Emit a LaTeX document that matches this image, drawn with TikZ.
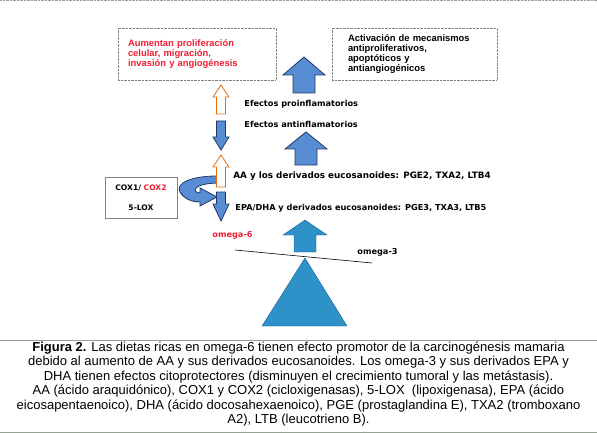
\documentclass[tikz,border=0pt]{standalone}
\usepackage{fontspec}
\setmainfont{Liberation Sans}
\newfontfamily\labfont{DejaVu Sans}
\usepackage{tikz}

\definecolor{arrblue}{RGB}{88,141,212}
\definecolor{arrnavy}{RGB}{31,56,100}
\definecolor{balblue}{RGB}{46,146,201}
\definecolor{baledge}{RGB}{30,95,145}
\definecolor{arrorange}{RGB}{228,108,10}
\definecolor{txtred}{RGB}{240,30,50}
\definecolor{rulegray}{RGB}{150,162,150}

% block arrow: style, x, tip, head base, tail, half head, half shaft
\newcommand{\blockarr}[7]{%
  \draw[#1] (#2-#6,#4) -- (#2,#3) -- (#2+#6,#4) -- (#2+#7,#4)
    -- (#2+#7,#5) -- (#2-#7,#5) -- (#2-#7,#4) -- cycle;}

\begin{document}
\begin{tikzpicture}[x=1pt, y=-1pt, thick,
  bigup/.style={fill=arrblue, draw=arrnavy},
  smallup/.style={fill=white, draw=arrorange},
  smalldown/.style={fill=arrblue, draw=arrnavy},
  balance/.style={fill=balblue, draw=baledge, thin},
  infobox/.style={draw=gray, densely dotted, thin, minimum height=52pt, align=left,
    font=\fontsize{9.4}{9.8}\selectfont\bfseries},
  steplabel/.style={anchor=west, inner sep=0pt,
    font=\labfont\fontsize{8.2}{10}\selectfont\bfseries}]
  \useasboundingbox (0,0) rectangle (597,433);
  \draw[rulegray, densely dotted, thin] (0,0.5) -- (597,0.5);

  \node[infobox, text=txtred, text width=138pt, inner xsep=10pt] (Prolif) at (197,54)
    {Aumentan proliferación\\celular, migración,\\invasión y angiogénesis};
  \node[infobox, text width=133pt, inner xsep=16pt] (Antiprolif) at (414.5,54)
    {Activación de mecanismos\\antiproliferativos,\\apoptóticos y\\antiangiogénicos};

  \blockarr{bigup}{304}{57}{75}{93}{21}{11}
  \blockarr{bigup}{306}{132}{149}{165}{21}{11}
  \blockarr{balance}{305}{220}{235}{252}{22}{11}

  \draw[smalldown] (217,176) .. controls (192,176) and (175,183) .. (180,192)
    .. controls (184,199) and (192,202) .. (200,202) -- (200,206) -- (217,197)
    -- (200,188) -- (200,193) .. controls (193,193) and (190,184) .. (217,183) -- cycle;

  \blockarr{smallup}{221}{85}{97}{114}{8}{4.5}
  \blockarr{smalldown}{221}{150}{137}{121}{8}{4.5}
  \blockarr{smallup}{221}{155}{167}{187}{8}{4.5}
  \blockarr{smalldown}{221}{221}{204}{192}{8}{4.5}

  \node[steplabel] (Pro) at (244,104) {Efectos proinflamatorios};
  \node[steplabel] (Anti) at (244,124) {Efectos antinflamatorios};
  \node[steplabel, font=\labfont\fontsize{8.8}{10}\selectfont\bfseries] (AA) at (233,176)
    {AA y los derivados eucosanoides: PGE2, TXA2, LTB4};
  \node[steplabel] (EPA) at (235,208) {EPA/DHA y derivados eucosanoides: PGE3, TXA3, LTB5};

  \node[draw=gray, thin, minimum width=72pt, minimum height=41pt, align=center,
    font=\labfont\fontsize{7.6}{20}\selectfont\bfseries] (Cox) at (141,197.5)
    {COX1/ \textcolor{txtred}{COX2}\\5-LOX};

  \coordinate (BalL) at (235,250);
  \coordinate (BalR) at (372,263);
  \draw[semithick] (BalL) -- (BalR);
  \draw[balance] (305,258) -- (347,326) -- (262,326) -- cycle;

  \node[steplabel, anchor=center, text=txtred] (Om6) at (232.5,235) {omega-6};
  \node[steplabel, anchor=center] (Om3) at (377.5,252) {omega-3};

  \draw[rulegray] (0,340) -- (597,340);
  \draw[rulegray] (0,432) -- (597,432);
  \node[align=center, inner sep=0pt, font=\fontsize{13}{14.5}\selectfont] (Caption) at (298.5,384)
    {\textbf{Figura 2.} Las dietas ricas en omega-6 tienen efecto promotor de la carcinogénesis mamaria\\
     debido al aumento de AA y sus derivados eucosanoides. Los omega-3 y sus derivados EPA y\\
     DHA tienen efectos citoprotectores (disminuyen el crecimiento tumoral y las metástasis).\\
     AA (ácido araquidónico), COX1 y COX2 (cicloxigenasas), 5-LOX\ \ (lipoxigenasa), EPA (ácido\\
     eicosapentaenoico), DHA (ácido docosahexaenoico), PGE (prostaglandina E), TXA2 (tromboxano\\
     A2), LTB (leucotrieno B).};
\end{tikzpicture}
\end{document}
